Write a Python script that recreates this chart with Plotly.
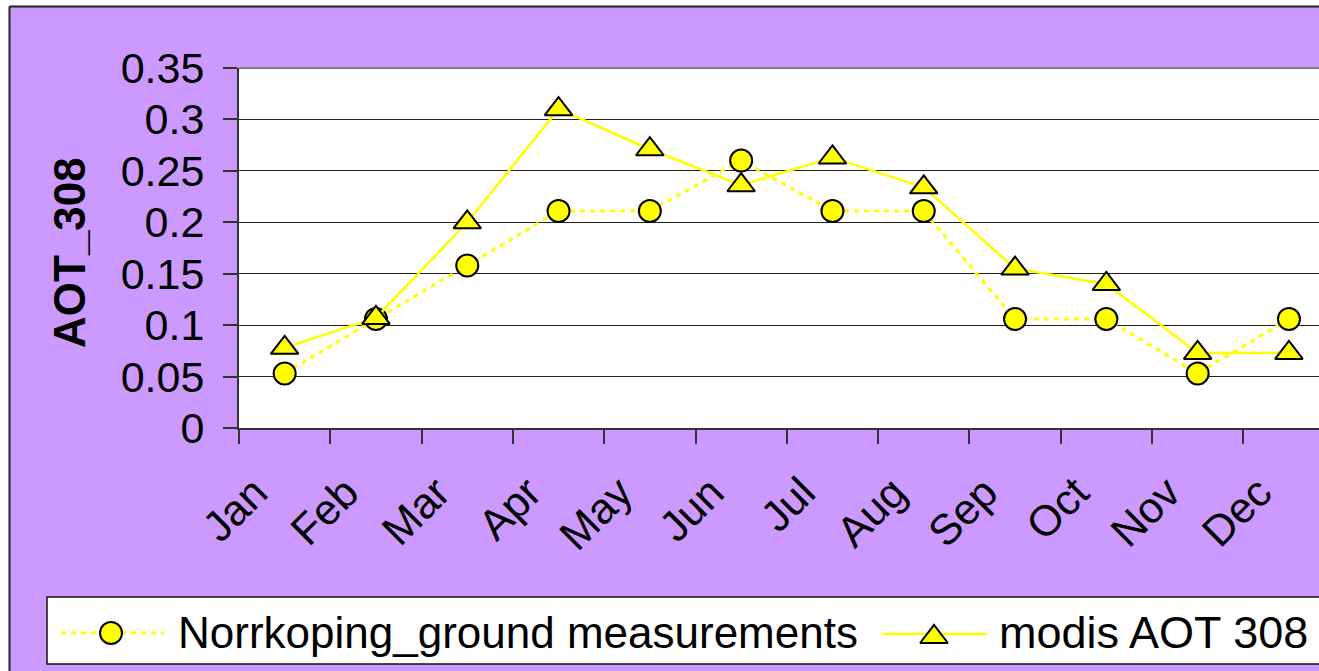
import plotly.graph_objects as go

months = ["Jan", "Feb", "Mar", "Apr", "May", "Jun",
          "Jul", "Aug", "Sep", "Oct", "Nov", "Dec"]
ground = [0.053, 0.106, 0.158, 0.211, 0.211, 0.260,
          0.211, 0.211, 0.106, 0.106, 0.053, 0.106]
modis = [0.078, 0.107, 0.200, 0.310, 0.271, 0.236,
         0.263, 0.234, 0.155, 0.140, 0.073, 0.073]
series_names = ["Norrkoping_ground measurements", "modis AOT 308"]
y_ticks = [0, 0.05, 0.1, 0.15, 0.2, 0.25, 0.3, 0.35]
y_tick_text = ["0", "0.05", "0.1", "0.15", "0.2", "0.25", "0.3", "0.35"]

W, H = 1319, 671
# plot-area edges in pixels
PL, PT, PB = 239, 68, 428
CAT_W = 91.3

def fx(x):
    return x / W

def fy(y):
    return 1 - y / H

PURPLE = "#CC99FF"
YELLOW = "#FFFF00"
FONT = "Liberation Sans, Arial, sans-serif"
DOTS = "5px,5px"

fig = go.Figure()
fig.add_trace(go.Scatter(
    x=months, y=ground, name=series_names[0], showlegend=False,
    mode="lines+markers",
    line=dict(color=YELLOW, width=3, dash=DOTS),
    marker=dict(symbol="circle", size=22, color=YELLOW,
                line=dict(color="black", width=2)),
    cliponaxis=False,
))
fig.add_trace(go.Scatter(
    x=months, y=modis, name=series_names[1], showlegend=False,
    mode="lines+markers",
    line=dict(color=YELLOW, width=2.5),
    marker=dict(symbol="triangle-up", size=24, color=YELLOW,
                line=dict(color="black", width=2)),
    cliponaxis=False,
))

# legend glyph markers, placed on a pixel-space overlay subplot
fig.add_trace(go.Scatter(
    x=[111], y=[633], xaxis="x2", yaxis="y2", mode="markers", showlegend=False,
    hoverinfo="skip",
    marker=dict(symbol="circle", size=22, color=YELLOW, line=dict(color="black", width=2)),
))
fig.add_trace(go.Scatter(
    x=[934], y=[637], xaxis="x2", yaxis="y2", mode="markers", showlegend=False,
    hoverinfo="skip",
    marker=dict(symbol="triangle-up", size=24, color=YELLOW, line=dict(color="black", width=2)),
))

shapes = [
    # white plot area
    dict(type="rect", xref="paper", yref="paper", x0=fx(PL), x1=fx(W + 5), y0=fy(PB), y1=fy(PT),
         fillcolor="white", line=dict(width=0), layer="below"),
    # white outer margin and chart frame
    dict(type="rect", xref="paper", yref="paper", x0=fx(-5), x1=fx(9), y0=fy(H + 5), y1=fy(-5),
         fillcolor="white", line=dict(width=0), layer="below"),
    dict(type="rect", xref="paper", yref="paper", x0=fx(-5), x1=fx(W + 5), y0=fy(6), y1=fy(-5),
         fillcolor="white", line=dict(width=0), layer="below"),
    dict(type="line", xref="paper", yref="paper", x0=fx(9.5), x1=fx(W + 5), y0=fy(6.5), y1=fy(6.5),
         line=dict(color="#222222", width=2)),
    dict(type="line", xref="paper", yref="paper", x0=fx(9.5), x1=fx(9.5), y0=fy(6.5), y1=fy(H + 5),
         line=dict(color="#222222", width=2)),
    # grey top border of plot area
    dict(type="line", xref="paper", yref="paper", x0=fx(PL), x1=fx(W + 5), y0=fy(PT), y1=fy(PT),
         line=dict(color="#808080", width=2)),
    # legend box and its line samples
    dict(type="rect", xref="paper", yref="paper", x0=fx(47), x1=fx(W + 10), y0=fy(664), y1=fy(597),
         fillcolor="white", line=dict(color="#111111", width=1.5), layer="below"),
    dict(type="line", xref="paper", yref="paper", x0=fx(61), x1=fx(164), y0=fy(633), y1=fy(633),
         line=dict(color=YELLOW, width=3, dash=DOTS), layer="below"),
    dict(type="line", xref="paper", yref="paper", x0=fx(882), x1=fx(987), y0=fy(634), y1=fy(634),
         line=dict(color=YELLOW, width=2.5), layer="below"),
]

annotations = [
    dict(text="<b>AOT_308</b>", xref="paper", yref="paper", x=fx(70), y=fy(253),
         xanchor="center", yanchor="middle", textangle=-90, showarrow=False,
         font=dict(size=44, family=FONT, color="black")),
    dict(text=series_names[0], xref="paper", yref="paper", x=fx(176), y=fy(632),
         xanchor="left", yanchor="middle", showarrow=False,
         font=dict(size=44, family=FONT, color="black")),
    dict(text=series_names[1], xref="paper", yref="paper", x=fx(997), y=fy(632),
         xanchor="left", yanchor="middle", showarrow=False,
         font=dict(size=45, family=FONT, color="black")),
]

fig.update_layout(
    width=W, height=H,
    margin=dict(l=0, r=0, t=0, b=0, autoexpand=False),
    paper_bgcolor=PURPLE, plot_bgcolor="rgba(0,0,0,0)",
    font=dict(family=FONT, size=43, color="black"),
    showlegend=False,
    xaxis=dict(
        type="category", domain=[fx(PL), 1],
        range=[-0.5, 11.5 - (PL + 12 * CAT_W - W) / CAT_W],
        tickangle=-45, ticks="outside", ticklen=14, tickwidth=1.5, tickcolor="#333333",
        tickson="boundaries", showgrid=False, zeroline=False,
        showline=True, linecolor="#333333", linewidth=2,
        tickfont=dict(size=43), ticklabelstandoff=20, ticklabelshift=-30,
        anchor="y",
    ),
    yaxis=dict(
        domain=[fy(PB), fy(PT)],
        range=[0, 0.35], tickmode="array", tickvals=y_ticks, ticktext=y_tick_text,
        ticks="outside", ticklen=14, tickwidth=1.5, tickcolor="#333333",
        showgrid=True, gridcolor="#222222", gridwidth=1.2, zeroline=False,
        showline=True, linecolor="#333333", linewidth=2,
        tickfont=dict(size=43), ticklabelstandoff=10,
        anchor="x",
    ),
    xaxis2=dict(domain=[0, 1], range=[0, W], visible=False, anchor="y2", fixedrange=True),
    yaxis2=dict(domain=[0, 1], range=[H, 0], visible=False, anchor="x2", fixedrange=True),
    shapes=shapes,
    annotations=annotations,
)

fig.write_html("out.html")
